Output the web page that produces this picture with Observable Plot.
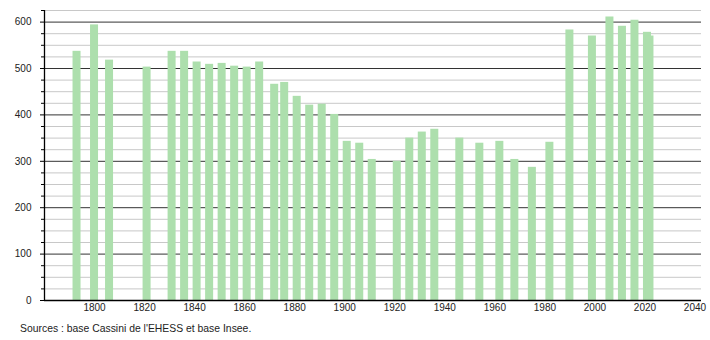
<!DOCTYPE html>
<html>
<head>
<meta charset="utf-8">
<script src="https://cdn.jsdelivr.net/npm/d3@7"></script>
<script src="https://cdn.jsdelivr.net/npm/@observablehq/plot@0.6"></script>
<style>
  body { margin: 0; background: #fff; font-family: "Liberation Sans", Arial, sans-serif; }
  #chart { width: 710px; height: 340px; position: relative; }
  #caption { position: absolute; left: 20px; top: 323px; font-size: 10.4px; color: #222; white-space: nowrap; }
</style>
</head>
<body>
<div id="chart"><div id="caption">Sources : base Cassini de l'EHESS et base Insee.</div></div>
<script>
const years = [1793, 1800, 1806, 1821, 1831, 1836, 1841, 1846, 1851, 1856, 1861, 1866, 1872, 1876, 1881, 1886, 1891, 1896, 1901, 1906, 1911, 1921, 1926, 1931, 1936, 1946, 1954, 1962, 1968, 1975, 1982, 1990, 1999, 2006, 2011, 2016, 2021, 2022];
const population = [537, 594, 518, 503, 537, 537, 514, 509, 511, 505, 503, 514, 466, 470, 440, 421, 423, 401, 343, 339, 304, 300, 350, 363, 369, 350, 339, 343, 304, 287, 341, 583, 570, 611, 591, 604, 578, 570];
const xTicks = [1800, 1820, 1840, 1860, 1880, 1900, 1920, 1940, 1960, 1980, 2000, 2020, 2040];
const yMajor = [0, 100, 200, 300, 400, 500, 600];
const yMinor = d3.range(25, 626, 25).filter(v => v % 100 !== 0);

const data = years.map((y, i) => ({year: y, pop: population[i]}));

const plot = Plot.plot({
  width: 710,
  height: 318,
  marginTop: 10,
  marginBottom: 18,
  marginLeft: 44,
  marginRight: 9,
  style: {fontFamily: "'Liberation Sans', Arial, sans-serif", fontSize: "10px", color: "#222", background: "#fff"},
  x: {domain: [1780, 2042.6], ticks: xTicks, tickFormat: d => String(d), tickSize: 0, tickPadding: 3, label: null},
  y: {domain: [0, 625], label: null},
  marks: [
    Plot.ruleY(yMinor, {stroke: "#c8c8c8", strokeWidth: 1}),
    Plot.ruleY(yMajor.filter(v => v > 0), {stroke: "#333", strokeWidth: 1}),
    Plot.rectY(data, {x1: d => d.year - 1.6, x2: d => d.year + 1.6, y1: 0, y2: "pop", fill: "#addfad"}),
    Plot.axisY(yMinor, {tickSize: 3, tickFormat: () => "", stroke: "#000"}),
    Plot.axisY(yMajor, {tickSize: 4, tickPadding: 9, tickFormat: d => String(d), stroke: "#000"}),
    Plot.axisX({ticks: xTicks, tickSize: 0, tickPadding: 3, tickFormat: d => String(d)}),
    Plot.ruleX([1780], {y1: 0, y2: 625, stroke: "#000", strokeWidth: 1.3}),
    Plot.ruleY([0], {stroke: "#000", strokeWidth: 1.3})
  ]
});
document.getElementById("chart").prepend(plot);
</script>
</body>
</html>
